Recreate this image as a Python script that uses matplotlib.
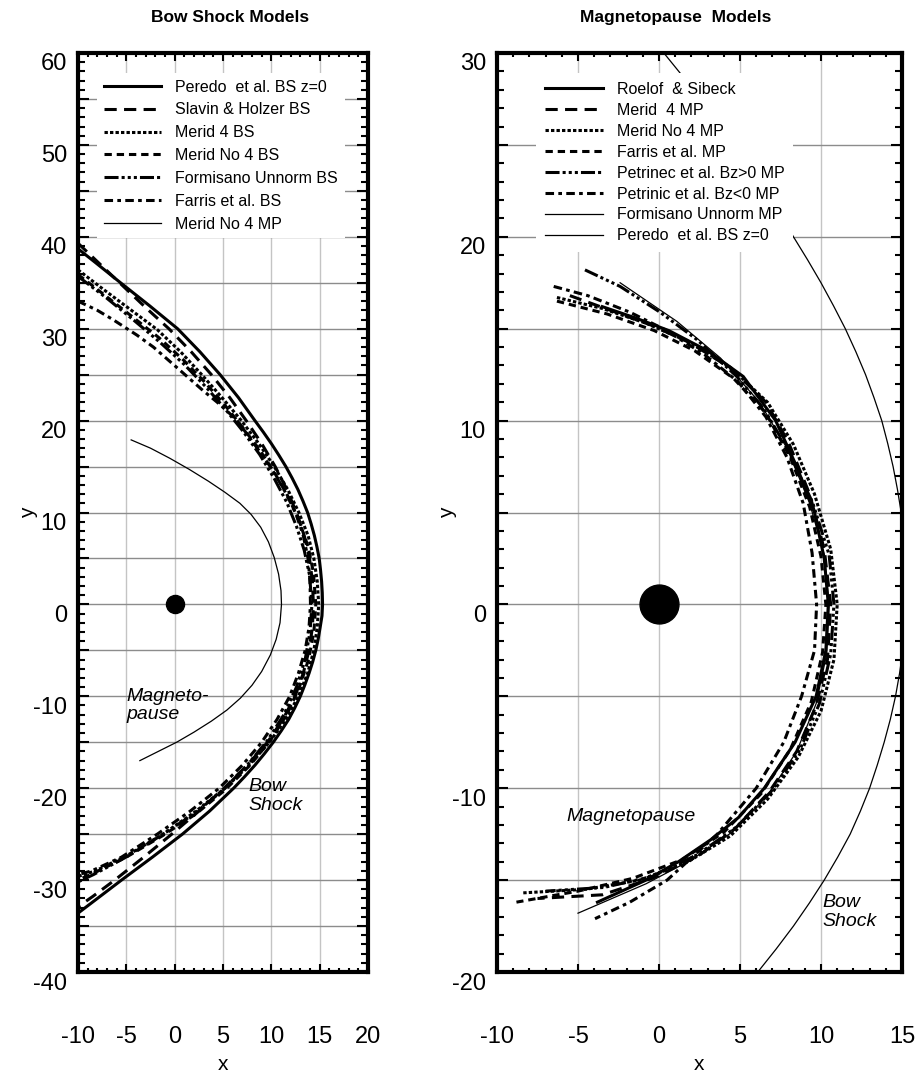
import matplotlib
matplotlib.use("Agg")
import matplotlib.pyplot as plt
from matplotlib.ticker import MultipleLocator, FuncFormatter
from matplotlib.transforms import ScaledTranslation

plt.rcParams["font.family"] = ["Liberation Sans", "DejaVu Sans"]
plt.rcParams["axes.unicode_minus"] = False

# ---------------- Bow shock panel data ----------------
peredo_x = [-10.0, -8.2, -5.6, -2.6, 0.3, 2.6, 4.7, 6.6, 8.3, 9.17, 10.0, 10.77, 11.5, 12.15, 12.75, 13.27,
            13.75, 14.12, 14.45, 14.72, 14.95, 15.09, 15.2, 15.27, 15.3,
            15.24, 15.05, 14.85, 14.6, 14.28, 13.9, 13.47, 13.0, 12.43, 11.8, 11.03, 10.2, 9.28, 8.3, 7.23,
            6.1, 3.6, 0.8, -2.3, -5.5, -8.0, -10.0]
peredo_y = [38.7, 37.2, 35.0, 32.5, 30.0, 27.5, 25.0, 22.5, 20.0, 18.75, 17.5, 16.25, 15.0, 13.75, 12.5, 11.25,
            10.0, 8.75, 7.5, 6.25, 5.0, 3.75, 2.5, 1.25, 0.0,
            -1.25, -2.5, -3.75, -5.0, -6.25, -7.5, -8.75, -10.0, -11.25, -12.5, -13.75, -15.0, -16.25, -17.5, -18.75,
            -20.0, -22.5, -25.0, -27.5, -30.0, -32.0, -33.6]

slavin_x = [-10.0, -7.5, -5.1, -2.9, -0.6, 1.7, 3.8, 5.7, 7.4, 9.0, 10.4, 11.6, 12.6, 13.4, 13.95, 14.25, 14.35,
            14.25, 13.9, 13.3, 12.45, 11.2, 9.6, 7.5, 5.1, 2.5, -0.3, -3.2, -6.2, -8.5, -10.0]
slavin_y = [39.3, 36.8, 34.4, 32.2, 30.0, 27.5, 25.0, 22.5, 20.0, 17.5, 15.0, 12.5, 10.0, 7.5, 5.0, 2.5, 0.0,
            -2.5, -5.0, -7.5, -10.0, -12.5, -15.0, -17.5, -20.0, -22.5, -25.0, -27.5, -30.0, -31.8, -32.9]

merid4_bs_x = [-10.0, -7.4, -4.6, -1.8, 0.6, 2.8, 4.9, 6.9, 8.7, 10.3, 11.7, 12.85, 13.8, 14.4, 14.75, 14.9,
               14.75, 14.4, 13.75, 12.8, 11.5, 9.8, 7.7, 5.2, 2.2, -1.2, -4.9, -8.2, -10.0]
merid4_bs_y = [36.4, 34.3, 32.1, 29.9, 27.5, 25.0, 22.5, 20.0, 17.5, 15.0, 12.5, 10.0, 7.5, 5.0, 2.5, 0.0,
               -2.5, -5.0, -7.5, -10.0, -12.5, -15.0, -17.5, -20.0, -22.5, -25.0, -27.3, -29.0, -29.6]

meridno4_bs_x = [-10.0, -7.3, -4.5, -1.6, 0.9, 3.1, 5.1, 7.0, 8.8, 10.4, 11.8, 12.9, 13.8, 14.35, 14.6,
                 14.4, 13.85, 12.9, 11.6, 9.9, 7.8, 5.2, 2.2, -1.3, -5.0, -8.3, -10.0]
meridno4_bs_y = [35.9, 33.7, 31.4, 29.0, 26.6, 24.2, 21.8, 19.3, 16.8, 14.2, 11.6, 9.0, 6.3, 3.5, 0.0,
                 -3.0, -6.0, -9.0, -12.0, -14.8, -17.5, -20.2, -22.8, -25.2, -27.5, -29.2, -30.0]

formisano_bs_x = [-10.0, -7.0, -4.2, -1.5, 1.0, 3.2, 5.2, 7.1, 8.8, 10.3, 11.6, 12.6, 13.4, 13.95, 14.2,
                  14.0, 13.5, 12.6, 11.3, 9.6, 7.5, 5.0, 2.0, -1.5, -5.2, -8.4, -10.0]
formisano_bs_y = [35.7, 33.3, 30.9, 28.5, 26.1, 23.7, 21.3, 18.8, 16.3, 13.7, 11.1, 8.5, 5.9, 3.2, 0.0,
                  -3.0, -6.0, -9.0, -12.0, -14.8, -17.5, -20.2, -22.8, -25.2, -27.6, -29.4, -30.2]

farris_bs_x = [-10.0, -8.0, -6.4, -3.9, -2.2, 0.2, 2.9, 4.4, 6.4, 8.2, 9.9, 11.3, 12.5, 13.3, 13.8, 14.0, 14.05,
               13.9, 13.5, 12.8, 11.9, 10.6, 9.0, 7.0, 4.6, 1.6, -1.8, -5.5, -8.6, -10.0]
farris_bs_y = [33.0, 32.0, 31.0, 29.3, 28.0, 25.8, 23.3, 22.0, 20.1, 17.5, 15.0, 12.5, 10.0, 7.5, 5.0, 2.5, 0.0,
               -2.5, -5.0, -7.5, -10.0, -12.5, -15.0, -17.5, -20.0, -22.5, -25.0, -27.5, -29.0, -29.4]

meridno4_mp_x = [-4.5, -2.5, -0.5, 1.5, 3.5, 5.2, 6.75, 7.9, 8.9, 9.7, 10.3, 10.75, 11.0, 11.05,
                 10.9, 10.5, 9.9, 9.0, 8.0, 6.8, 5.4, 3.8, 2.0, 0.2, -1.7, -3.6]
meridno4_mp_y = [17.9, 17.0, 15.9, 14.7, 13.4, 12.2, 11.0, 9.8, 8.4, 6.8, 5.1, 3.3, 1.5, 0.0,
                 -2.0, -3.8, -5.5, -7.3, -8.8, -10.2, -11.5, -12.7, -13.9, -15.0, -16.0, -17.0]

# ---------------- Magnetopause panel data ----------------
roelof_x = [-3.5, -1.5, 0.6, 3.0, 5.2, 7.2, 8.5, 9.6, 10.2, 10.45, 10.3, 9.7, 8.4, 6.5, 4.9, 3.2, 1.2, -0.8, -3.8]
roelof_y = [16.2, 15.6, 14.9, 13.8, 12.4, 10.0, 7.5, 5.0, 2.5, 0.0, -2.5, -5.0, -7.5, -10.0, -11.6, -12.8, -14.0, -15.0, -16.2]

merid4_mp_x = [-5.5, -3.0, -0.5, 2.0, 4.5, 6.6, 8.0, 9.3, 10.2, 10.6, 10.4, 9.7, 8.5, 6.8, 4.7, 2.4, -0.4, -3.5, -7.5]
merid4_mp_y = [16.8, 16.0, 15.2, 14.2, 12.8, 11.0, 8.8, 6.0, 3.0, 0.0, -3.0, -5.5, -8.0, -10.2, -12.2, -13.7, -14.9, -15.8, -16.0]

meridno4_mp2_x = [-6.3, -3.5, -0.8, 1.8, 4.4, 6.7, 8.3, 9.6, 10.6, 11.0, 10.8, 10.0, 8.6, 6.7, 4.4, 1.8, -1.2, -4.5, -8.5]
meridno4_mp2_y = [16.7, 16.1, 15.3, 14.3, 12.9, 11.0, 8.7, 6.0, 3.0, 0.0, -3.0, -5.8, -8.3, -10.6, -12.6, -14.0, -15.0, -15.5, -15.7]

farris_mp_x = [-6.3, -3.2, -0.3, 2.2, 4.6, 6.6, 8.1, 9.3, 10.0, 10.3, 10.1, 9.4, 8.1, 6.3, 4.0, 1.4, -1.6, -5.0, -8.8]
farris_mp_y = [16.5, 15.8, 14.9, 13.8, 12.3, 10.4, 8.0, 5.3, 2.6, 0.0, -2.6, -5.3, -7.9, -10.3, -12.4, -13.9, -14.9, -15.6, -16.2]

petrinec_pos_x = [-4.57, -2.4, 0.06, 2.35, 4.8, 6.5, 7.9, 9.5, 10.5, 10.8, 10.6, 9.9, 8.7, 6.9, 4.8, 2.4, -0.4, -3.4, -7.0]
petrinec_pos_y = [18.2, 17.3, 15.9, 14.4, 12.4, 10.6, 8.5, 5.5, 2.7, 0.0, -2.7, -5.4, -7.9, -10.2, -12.1, -13.6, -14.8, -15.4, -15.6]

petrinic_neg_x = [-6.5, -4.4, -1.8, 0.25, 2.8, 4.9, 6.6, 7.9, 8.9, 9.45, 9.73, 9.6, 8.8, 7.7, 6.0, 3.6, 0.5, -1.8, -3.95]
petrinic_neg_y = [17.3, 16.8, 15.9, 15.0, 13.6, 12.1, 10.2, 8.0, 5.5, 2.8, 0.0, -2.5, -5.0, -7.5, -10.0, -12.5, -15.0, -16.2, -17.1]

formisano_mp_x = [-2.4, 1.1, 3.8, 6.2, 7.9, 9.3, 10.2, 10.5, 10.35, 9.7, 8.5, 6.7, 4.5, 2.0, -0.8, -2.9, -5.0]
formisano_mp_y = [17.5, 15.4, 13.4, 11.0, 8.5, 5.5, 2.7, 0.0, -2.7, -5.4, -8.0, -10.4, -12.4, -13.9, -15.2, -16.0, -16.8]

# line styles (dash patterns in units of line width)
LONG_DASH = (0, (4.0, 2.4))
DENSE_DOT = (0, (1.1, 0.7))
DASHED = (0, (2.4, 1.6))
DASH_3DOT = (0, (4.6, 1.0, 1.0, 1.0, 1.0, 1.0, 1.0, 1.0))
DASH_DOT = (0, (2.8, 1.4, 1.2, 1.4))
THICK = 2.2
THIN = 0.9


def style_axes(ax, fig, xlim, ylim):
    ax.set_xlim(*xlim)
    ax.set_ylim(*ylim)
    for side in ax.spines.values():
        side.set_linewidth(3)
    ax.xaxis.set_major_locator(MultipleLocator(5))
    ax.xaxis.set_minor_locator(MultipleLocator(1))
    ax.yaxis.set_major_locator(MultipleLocator(5))
    ax.yaxis.set_minor_locator(MultipleLocator(1))
    ax.yaxis.set_major_formatter(FuncFormatter(lambda v, p: f"{v:.0f}" if round(v) % 10 == 0 else ""))
    ax.xaxis.set_major_formatter(FuncFormatter(lambda v, p: f"{v:.0f}"))
    ax.tick_params(which="both", direction="in", top=True, right=True, width=1.5)
    ax.tick_params(axis="x", which="major", length=6, pad=39, labelsize=17)
    ax.tick_params(axis="x", which="minor", length=3)
    ax.tick_params(axis="y", which="major", length=8, pad=8, labelsize=17)
    ax.tick_params(axis="y", which="minor", length=5)
    ax.xaxis.grid(True, which="major", color="#c4c4c4", lw=1.0)
    ax.yaxis.grid(True, which="major", color="#8c8c8c", lw=1.0)
    ax.set_axisbelow(True)
    ax.set_xlabel("x", fontsize=15, labelpad=5)
    ax.set_ylabel("y", fontsize=15, labelpad=-4)
    # y tick labels sit a little below their ticks
    shift = ScaledTranslation(0, -0.09, fig.dpi_scale_trans)
    for tick in ax.yaxis.get_major_ticks():
        tick.label1.set_transform(tick.label1.get_transform() + shift)


fig = plt.figure(figsize=(9.19, 10.75), dpi=100)
ax1 = fig.add_axes([78 / 919, 103 / 1075, 290 / 919, 919 / 1075])
ax2 = fig.add_axes([497 / 919, 103 / 1075, 405 / 919, 919 / 1075])

# ---- Bow shock models ----
ax1.plot(peredo_x, peredo_y, color="black", lw=THICK, label="Peredo  et al. BS z=0")
ax1.plot(slavin_x, slavin_y, color="black", lw=THICK, ls=LONG_DASH, label="Slavin & Holzer BS")
ax1.plot(merid4_bs_x, merid4_bs_y, color="black", lw=THICK, ls=DENSE_DOT, label="Merid 4 BS")
ax1.plot(meridno4_bs_x, meridno4_bs_y, color="black", lw=THICK, ls=DASHED, label="Merid No 4 BS")
ax1.plot(formisano_bs_x, formisano_bs_y, color="black", lw=THICK, ls=DASH_3DOT, label="Formisano Unnorm BS")
ax1.plot(farris_bs_x, farris_bs_y, color="black", lw=THICK, ls=DASH_DOT, label="Farris et al. BS")
ax1.plot(meridno4_mp_x, meridno4_mp_y, color="black", lw=THIN, label="Merid No 4 MP")
ax1.plot([0], [0], "o", color="black", ms=13)
ax1.text(-5.0, -11.0, "Magneto-\npause", style="italic", fontsize=14, va="center", ha="left", linespacing=1.15)
ax1.text(7.6, -20.9, "Bow\nShock", style="italic", fontsize=14, va="center", ha="left", linespacing=1.15)
leg1 = ax1.legend(loc="upper left", bbox_to_anchor=(0.066, 0.978), fontsize=11.5, handlelength=3.6,
                  handletextpad=0.9, labelspacing=0.49, borderpad=0.4, borderaxespad=0,
                  frameon=True, fancybox=False, edgecolor="none", facecolor="white", framealpha=1)
leg1.set_zorder(5)
ax1.set_title("Bow Shock Models", pad=22, x=0.525, fontsize=12.5, fontweight="bold")
style_axes(ax1, fig, (-10, 20), (-40, 60))

# ---- Magnetopause models ----
ax2.plot(roelof_x, roelof_y, color="black", lw=THICK, label="Roelof  & Sibeck")
ax2.plot(merid4_mp_x, merid4_mp_y, color="black", lw=THICK, ls=LONG_DASH, label="Merid  4 MP")
ax2.plot(meridno4_mp2_x, meridno4_mp2_y, color="black", lw=THICK, ls=DENSE_DOT, label="Merid No 4 MP")
ax2.plot(farris_mp_x, farris_mp_y, color="black", lw=THICK, ls=DASHED, label="Farris et al. MP")
ax2.plot(petrinec_pos_x, petrinec_pos_y, color="black", lw=THICK, ls=DASH_3DOT, label="Petrinec et al. Bz>0 MP")
ax2.plot(petrinic_neg_x, petrinic_neg_y, color="black", lw=THICK, ls=DASH_DOT, label="Petrinic et al. Bz<0 MP")
ax2.plot(formisano_mp_x, formisano_mp_y, color="black", lw=THIN, label="Formisano Unnorm MP")
ax2.plot(peredo_x, peredo_y, color="black", lw=THIN, label="Peredo  et al. BS z=0")
ax2.plot([0], [0], "o", color="black", ms=28)
ax2.text(-5.7, -11.55, "Magnetopause", style="italic", fontsize=14, va="center", ha="left")
ax2.text(10.1, -16.75, "Bow\nShock", style="italic", fontsize=14, va="center", ha="left", linespacing=1.15)
leg2 = ax2.legend(loc="upper left", bbox_to_anchor=(0.097, 0.978), fontsize=11.5, handlelength=3.6,
                  handletextpad=0.9, labelspacing=0.37, borderpad=0.55, borderaxespad=0,
                  frameon=True, fancybox=False, edgecolor="none", facecolor="white", framealpha=1)
leg2.set_zorder(5)
ax2.set_title("Magnetopause  Models", pad=22, x=0.44, fontsize=12.5, fontweight="bold")
style_axes(ax2, fig, (-10, 15), (-20, 30))

fig.savefig("out.png", dpi=100)
